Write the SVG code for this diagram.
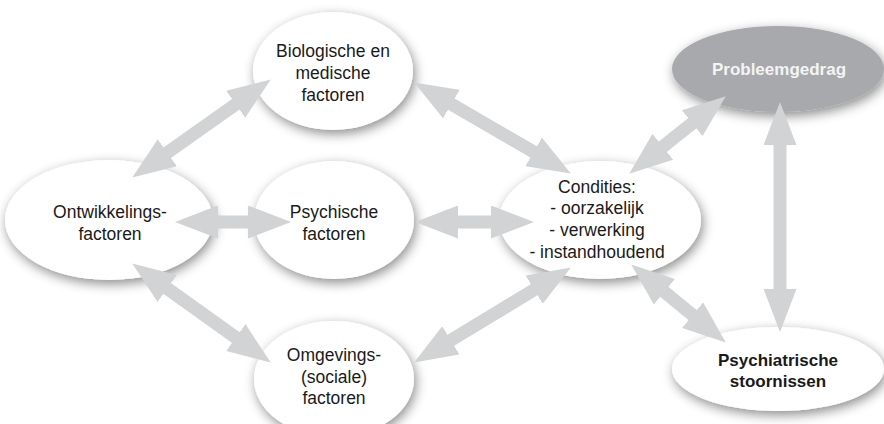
<svg xmlns="http://www.w3.org/2000/svg" width="884" height="424" viewBox="0 0 884 424">
<defs>
<filter id="sh" x="-30%" y="-30%" width="160%" height="170%">
<feDropShadow dx="2" dy="4" stdDeviation="6" flood-color="#000" flood-opacity="0.45"/>
</filter>
<marker id="ah" viewBox="0 0 43 33" markerWidth="43" markerHeight="33" markerUnits="userSpaceOnUse" refX="1" refY="16.5" orient="auto-start-reverse">
<path d="M0,0 L43,16.5 L0,33 z" fill="#d1d3d4"/>
</marker>
<style>
.n{fill:#fff;filter:url(#sh)}
.d{fill:#a7a9ac;filter:url(#sh)}
.t{font-family:"Liberation Sans",Arial,sans-serif;font-size:17.5px;fill:#1a1a1a;text-anchor:middle}
.b{font-weight:bold;font-size:17px}
.w{fill:#f4f4f4}
.c line{stroke:#d1d3d4;stroke-width:13;marker-start:url(#ah);marker-end:url(#ah)}
</style>
</defs>
<rect width="884" height="424" fill="#fff"/>
<g id="bio"><ellipse class="n" cx="333" cy="71" rx="80" ry="59"/>
<text class="t" x="333" y="57">Biologische en</text><text class="t" x="333" y="79">medische</text><text class="t" x="333" y="101">factoren</text></g>
<g id="ontw"><ellipse class="n" cx="109" cy="220" rx="104" ry="60"/>
<text class="t" x="110" y="218">Ontwikkelings-</text><text class="t" x="110" y="240">factoren</text></g>
<g id="psych"><ellipse class="n" cx="334" cy="220" rx="80" ry="59"/>
<text class="t" x="334" y="218">Psychische</text><text class="t" x="334" y="240">factoren</text></g>
<g id="omg"><ellipse class="n" cx="334" cy="379" rx="80" ry="58"/>
<text class="t" x="334" y="361">Omgevings-</text><text class="t" x="334" y="383">(sociale)</text><text class="t" x="334" y="404">factoren</text></g>
<g id="cond"><ellipse class="n" cx="600" cy="220" rx="101" ry="59"/>
<text class="t" x="597" y="193">Condities:</text><text class="t" x="597" y="214">- oorzakelijk</text><text class="t" x="597" y="236">- verwerking</text><text class="t" x="597" y="258">- instandhoudend</text></g>
<g id="prob"><ellipse class="d" cx="778" cy="69" rx="106" ry="43"/>
<text class="t b w" x="779" y="75">Probleemgedrag</text></g>
<g id="psychiatr"><ellipse class="n" cx="778" cy="369" rx="106" ry="42"/>
<text class="t b" x="778" y="366">Psychiatrische</text><text class="t b" x="778" y="387">stoornissen</text></g>
<g id="connectors" class="c">
<line x1="166.5" y1="153.3" x2="236.5" y2="103.7"/>
<line x1="450.5" y1="103.6" x2="534.5" y2="152.4"/>
<line x1="217" y1="222" x2="249" y2="222"/>
<line x1="457" y1="222" x2="492" y2="222"/>
<line x1="166.4" y1="287.9" x2="236.6" y2="338.1"/>
<line x1="450" y1="340.8" x2="535" y2="289.2"/>
<line x1="662" y1="147.4" x2="693" y2="122.6"/>
<line x1="663.6" y1="291.2" x2="693.4" y2="315.8"/>
<line x1="780" y1="144" x2="780" y2="290"/>
</g>
</svg>
